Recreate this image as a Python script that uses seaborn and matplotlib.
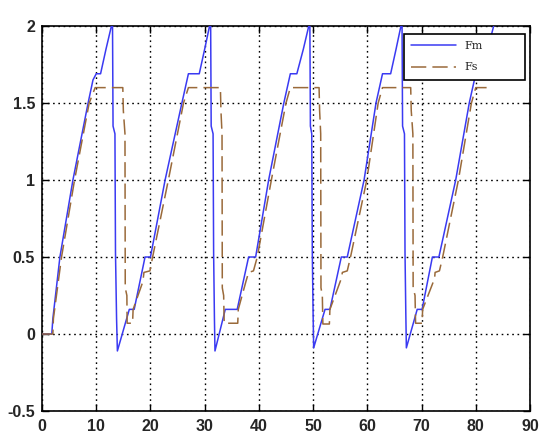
import matplotlib
matplotlib.use("Agg")
import matplotlib.pyplot as plt
import seaborn as sns
import pandas as pd

# ---- data ----
fm_x = [0, 1.8, 2.0, 3.3, 5.7, 8.5, 9.4, 10.0, 10.8, 11.8, 12.8, 13.0, 13.1, 13.45, 13.55, 13.75, 13.9,
        16.1, 17.0, 19.0, 20.0, 22.7, 25.8, 27.0, 29.0, 30.0, 30.9, 31.1, 31.2, 31.55, 31.65, 31.8, 31.9,
        33.8, 36.0, 38.1, 39.4, 41.8, 44.6, 45.8, 47.0, 48.2, 49.2, 49.4, 49.5, 49.75, 49.85, 50.0, 50.1,
        52.2, 53.1, 55.2, 56.3, 59.4, 61.6, 62.8, 64.3, 65.3, 66.2, 66.4, 66.5, 66.85, 66.95, 67.1, 67.2,
        69.2, 70.1, 72.0, 73.2, 76.3, 78.8, 80.0, 81.5, 83.3, 83.6]
fm_y = [0, 0, 0.1, 0.5, 1.0, 1.5, 1.65, 1.69, 1.69, 1.85, 2.0, 2.03, 1.35, 1.3, 0.53, 0.1, -0.11,
        0.16, 0.16, 0.5, 0.5, 1.0, 1.5, 1.69, 1.69, 1.85, 2.0, 2.03, 1.35, 1.3, 0.53, 0.1, -0.11,
        0.16, 0.16, 0.5, 0.5, 1.0, 1.5, 1.69, 1.69, 1.85, 2.0, 2.03, 1.35, 1.3, 0.53, 0.13, -0.09,
        0.16, 0.16, 0.5, 0.5, 1.0, 1.5, 1.69, 1.69, 1.85, 2.0, 2.03, 1.35, 1.3, 0.53, 0.13, -0.09,
        0.16, 0.16, 0.5, 0.5, 1.0, 1.5, 1.69, 1.75, 2.0, 2.05]

fs_x = [0, 2.0, 2.1, 3.6, 6.0, 8.7, 9.8, 14.9, 15.0, 15.3, 15.35, 15.65, 15.7, 16.7, 16.8, 18.6, 18.8, 19.9,
        20.4, 23.3, 26.1, 27.0, 32.9, 33.0, 33.2, 33.25, 33.5, 33.6, 36.1, 36.2, 37.6, 38.1, 39.0,
        39.7, 42.3, 45.0, 45.8, 51.1, 51.2, 51.4, 51.45, 51.7, 51.8, 53.0, 53.1, 55.2, 55.4, 56.3,
        56.9, 59.9, 62.0, 62.8, 68.0, 68.1, 68.4, 68.45, 68.8, 68.9, 70.1, 70.2, 72.4, 72.5, 73.3,
        73.9, 76.8, 79.2, 80.0, 82.0]
fs_y = [0, 0, 0.1, 0.5, 1.0, 1.5, 1.6, 1.6, 1.45, 1.3, 0.3, 0.25, 0.07, 0.07, 0.16, 0.34, 0.4, 0.41,
        0.5, 1.0, 1.5, 1.6, 1.6, 1.45, 1.3, 0.3, 0.25, 0.07, 0.07, 0.16, 0.34, 0.4, 0.41,
        0.5, 1.0, 1.5, 1.6, 1.6, 1.45, 1.3, 0.3, 0.25, 0.065, 0.065, 0.16, 0.36, 0.4, 0.41,
        0.5, 1.0, 1.5, 1.6, 1.6, 1.45, 1.3, 0.3, 0.25, 0.07, 0.07, 0.16, 0.36, 0.4, 0.41,
        0.5, 1.0, 1.5, 1.6, 1.6]

x_ticks = [0, 10, 20, 30, 40, 50, 60, 70, 80, 90]
y_ticks = [-0.5, 0, 0.5, 1, 1.5, 2]
y_tick_labels = ["-0.5", "0", "0.5", "1", "1.5", "2"]
series_names = ["Fm", "Fs"]

sns.set_style("white")
plt.rcParams['font.family'] = ['Liberation Sans', 'DejaVu Sans']

fig = plt.figure(figsize=(5.5, 4.41), dpi=100)
ax = fig.add_axes([0.0764, 0.068, 0.8872, 0.873])

df_fm = pd.DataFrame({"x": fm_x, "y": fm_y})
df_fs = pd.DataFrame({"x": fs_x, "y": fs_y})

sns.lineplot(data=df_fm, x="x", y="y", sort=False, estimator=None, ax=ax,
             color="#3a3af2", lw=1.1, label=series_names[0], zorder=3)
sns.lineplot(data=df_fs, x="x", y="y", sort=False, estimator=None, ax=ax,
             color="#9a6a3a", lw=1.1, label=series_names[1], zorder=3)
ax.lines[1].set_dashes([10, 4])

ax.set_xlim(0, 90)
ax.set_ylim(-0.5, 2)
ax.set_xticks(x_ticks)
ax.set_yticks(y_ticks)
ax.set_yticklabels(y_tick_labels)
ax.set_xlabel("")
ax.set_ylabel("")

for lbl in ax.get_xticklabels() + ax.get_yticklabels():
    lbl.set_fontweight("bold")
    lbl.set_fontsize(11.5)

ax.tick_params(direction="in", length=5, width=1, top=True, right=True,
               bottom=True, left=True, color="black")
ax.tick_params(axis="x", pad=6)
ax.tick_params(axis="y", pad=5)
ax.grid(True, color="black", linestyle=(0, (1.2, 2.6)), linewidth=1.0)
ax.set_axisbelow(True)
for s in ax.spines.values():
    s.set_color("black")
    s.set_linewidth(1.2)

leg = ax.legend(loc="upper left", bbox_to_anchor=(0.742, 0.857, 0.248, 0.122), mode="expand",
                frameon=True, fancybox=False, edgecolor="black", framealpha=1,
                handlelength=4.0, borderpad=0.65, labelspacing=1.0, handletextpad=0.8,
                borderaxespad=0, prop={"family": "DejaVu Serif", "size": 8})
leg.get_frame().set_linewidth(1.2)
leg.legend_handles[1].set_dashes([10, 4])

fig.savefig("out.png", dpi=100)
